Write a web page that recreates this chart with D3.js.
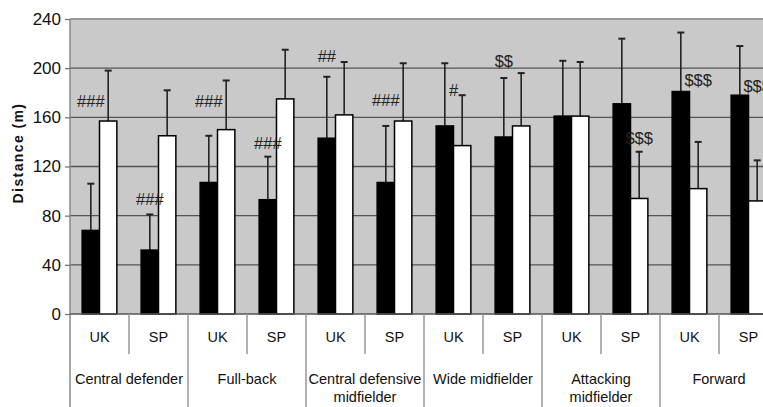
<!DOCTYPE html>
<html>
<head>
<meta charset="utf-8">
<script src="https://cdn.jsdelivr.net/npm/d3@7"></script>
<style>
  body { margin: 0; background: #fff; }
  svg { display: block; font-family: "Liberation Sans", Arial, sans-serif; }
</style>
</head>
<body>
<div id="chart"></div>
<script>
// positions (x axis, two levels)
const groups = ["Central defender", "Full-back", "Central defensive\nmidfielder", "Wide midfielder", "Attacking\nmidfielder", "Forward"];
const subgroups = ["UK", "SP"];

// values per group, in order UK, SP
const blackMean = [[68, 52], [107, 93], [143, 107], [153, 144], [161, 171], [181, 178]];
const blackSD   = [[38, 29], [38, 35], [50, 46], [51, 48], [45, 53], [48, 40]];
const whiteMean = [[157, 145], [150, 175], [162, 157], [137, 153], [161, 94], [102, 92]];
const whiteSD   = [[41, 37], [40, 40], [43, 47], [41, 43], [44, 38], [38, 33]];

const yTicks = [0, 40, 80, 120, 160, 200, 240];

// significance marks: group index, subgroup, bar, label, height (m)
const marks = [
  [0, "UK", "black", "###", 173],
  [0, "SP", "black", "###", 93],
  [1, "UK", "black", "###", 173],
  [1, "SP", "black", "###", 139],
  [2, "UK", "black", "##", 210],
  [2, "SP", "black", "###", 174],
  [3, "UK", "mid", "#", 182],
  [3, "SP", "black", "$$", 206],
  [4, "SP", "white", "$$$", 143],
  [5, "UK", "white", "$$$", 190],
  [5, "SP", "white", "$$$", 185]
];

const W = 763, H = 407;
const margin = {top: 19, left: 70, bottom: 93};
const plotRight = 778;   // plot runs past the right edge, as in the source
const baseY = H - margin.bottom;

const svg = d3.select("#chart").append("svg")
  .attr("width", W)
  .attr("height", H);

const x0 = d3.scaleBand().domain(d3.range(groups.length)).range([margin.left, plotRight]);
const x1 = d3.scaleBand().domain(subgroups).range([0, x0.bandwidth()]);
const x2 = d3.scaleBand().domain(["black", "white"]).range([0, x1.bandwidth()]).paddingOuter(0.7);
const y = d3.scaleLinear().domain([0, 240]).range([baseY, margin.top]);

// plot background
svg.append("rect")
  .attr("x", margin.left)
  .attr("y", margin.top)
  .attr("width", plotRight - margin.left)
  .attr("height", baseY - margin.top)
  .attr("fill", "#c9c9c9");

// gridlines
svg.append("g")
  .selectAll("line")
  .data(yTicks.filter(t => t > 0))
  .enter().append("line")
    .attr("x1", margin.left)
    .attr("x2", plotRight)
    .attr("y1", d => y(d))
    .attr("y2", d => y(d))
    .attr("stroke", d => d === 240 ? "#9a9a9a" : "#555")
    .attr("stroke-width", d => d === 240 ? 2 : 1.4);

// bars
const rows = [];
groups.forEach((g, gi) => {
  subgroups.forEach((s, si) => {
    rows.push({gi, s, key: "black", mean: blackMean[gi][si], sd: blackSD[gi][si]});
    rows.push({gi, s, key: "white", mean: whiteMean[gi][si], sd: whiteSD[gi][si]});
  });
});
const barX = d => x0(d.gi) + x1(d.s) + x2(d.key);

// error bars (upper only)
const err = svg.append("g")
  .attr("stroke", "#222")
  .attr("stroke-width", 1.6);
err.selectAll("line.v")
  .data(rows)
  .enter().append("line")
    .attr("class", "v")
    .attr("x1", d => barX(d) + x2.bandwidth() / 2)
    .attr("x2", d => barX(d) + x2.bandwidth() / 2)
    .attr("y1", d => y(d.mean))
    .attr("y2", d => y(d.mean + d.sd));
err.selectAll("line.c")
  .data(rows)
  .enter().append("line")
    .attr("class", "c")
    .attr("stroke-width", 2)
    .attr("x1", d => barX(d) + x2.bandwidth() / 2 - 3.5)
    .attr("x2", d => barX(d) + x2.bandwidth() / 2 + 3.5)
    .attr("y1", d => y(d.mean + d.sd))
    .attr("y2", d => y(d.mean + d.sd));

svg.append("g")
  .selectAll("rect")
  .data(rows)
  .enter().append("rect")
    .attr("x", barX)
    .attr("y", d => y(d.mean))
    .attr("width", x2.bandwidth())
    .attr("height", d => baseY - y(d.mean))
    .attr("fill", d => d.key === "black" ? "#000" : "#fff")
    .attr("stroke", "#000")
    .attr("stroke-width", 1.5);

// significance labels
svg.append("g")
  .selectAll("text")
  .data(marks)
  .enter().append("text")
    .attr("x", d => {
      const sx = x0(d[0]) + x1(d[1]);
      if (d[2] === "mid") return sx + x1.bandwidth() / 2;
      return sx + x2(d[2]) + x2.bandwidth() / 2;
    })
    .attr("y", d => y(d[4]))
    .attr("dy", "0.35em")
    .attr("text-anchor", "middle")
    .attr("font-size", 16.5)
    .attr("fill", "#222")
    .text(d => d[3]);

// y axis
svg.append("line")
  .attr("x1", margin.left).attr("x2", margin.left)
  .attr("y1", margin.top).attr("y2", H)
  .attr("stroke", "#8a8a8a")
  .attr("stroke-width", 1.5);

const yAxis = svg.append("g")
  .attr("transform", `translate(${margin.left},0)`)
  .call(d3.axisLeft(y).tickValues(yTicks).tickSize(5).tickPadding(4));
yAxis.select(".domain").remove();
yAxis.selectAll(".tick line").attr("stroke", "#777").attr("stroke-width", 1.3);
yAxis.selectAll(".tick text")
  .attr("font-size", 17)
  .attr("font-family", "Liberation Sans, Arial, sans-serif")
  .attr("fill", "#111");

svg.append("text")
  .attr("transform", "translate(18,153) rotate(-90)")
  .attr("text-anchor", "middle")
  .attr("dy", "0.35em")
  .attr("font-size", 14)
  .attr("font-weight", "bold")
  .attr("letter-spacing", 1.4)
  .attr("fill", "#111")
  .text("Distance (m)");

// x axis baseline
svg.append("line")
  .attr("x1", margin.left).attr("x2", plotRight)
  .attr("y1", baseY).attr("y2", baseY)
  .attr("stroke", "#555")
  .attr("stroke-width", 1.5);

// separators
const sep = svg.append("g").attr("stroke", "#999").attr("stroke-width", 1.5);
groups.forEach((g, gi) => {
  sep.append("line")
    .attr("x1", x0(gi) + x0.bandwidth()).attr("x2", x0(gi) + x0.bandwidth())
    .attr("y1", baseY).attr("y2", H);
  sep.append("line")
    .attr("x1", x0(gi) + x1("SP")).attr("x2", x0(gi) + x1("SP"))
    .attr("y1", baseY).attr("y2", baseY + 40);
});

// subgroup labels
const lab = svg.append("g").attr("fill", "#111").attr("text-anchor", "middle");
groups.forEach((g, gi) => {
  subgroups.forEach(s => {
    lab.append("text")
      .attr("x", x0(gi) + x1(s) + x1.bandwidth() / 2)
      .attr("y", baseY + 23)
      .attr("dy", "0.35em")
      .attr("font-size", 14.5)
      .text(s);
  });
  const lines = g.split("\n");
  lines.forEach((ln, li) => {
    lab.append("text")
      .attr("x", x0(gi) + x0.bandwidth() / 2)
      .attr("y", baseY + 65 + li * 18)
      .attr("dy", "0.35em")
      .attr("font-size", 14.5)
      .text(ln);
  });
});
</script>
</body>
</html>
